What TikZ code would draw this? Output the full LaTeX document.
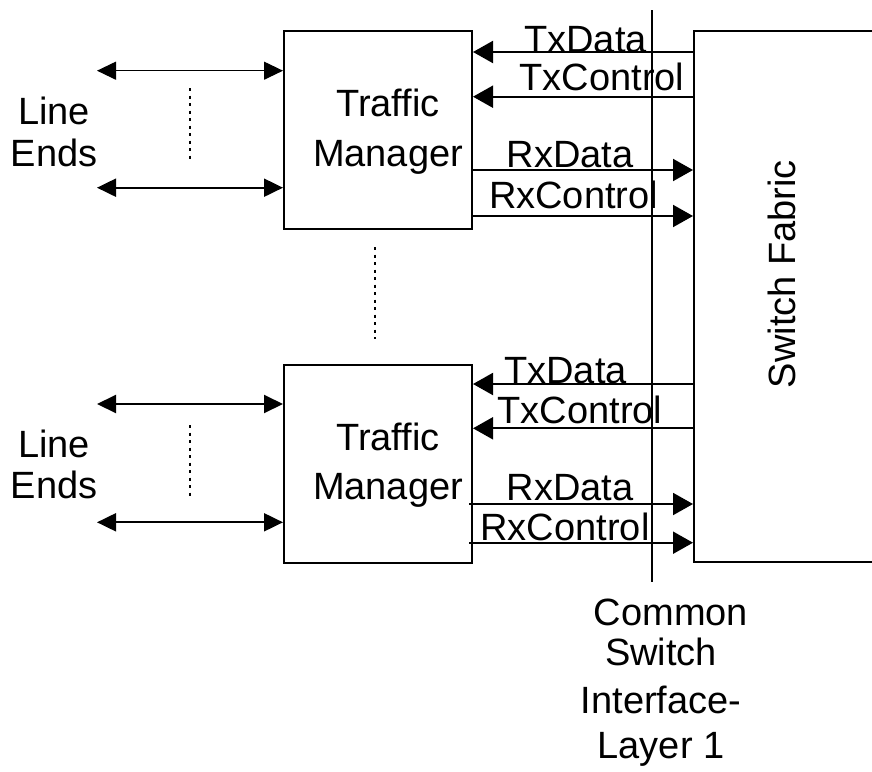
\documentclass[tikz,border=0pt]{standalone}
\usepackage{fontspec}
\setmainfont{Liberation Sans}
\usetikzlibrary{arrows.meta}
\begin{document}
\begin{tikzpicture}[x=1pt,y=-1pt,
  lbl/.style={font=\fontsize{38}{44}\selectfont, inner sep=0pt, anchor=base},
  tmbox/.style={draw, line width=2pt, minimum width=188pt, minimum height=198pt, inner sep=0pt},
  sig/.style={line width=2pt, -{Triangle[length=20pt,width=22pt]}},
  lineend/.style={line width=2pt, {Triangle[length=19pt,width=18pt]}-{Triangle[length=19pt,width=18pt]}},
  dotline/.style={line width=2pt, dash pattern=on 3pt off 4.5pt}]
\useasboundingbox (0,0) rectangle (872,771);

% blocks
\node[tmbox] (tm1) at (378,130) {};
\node[tmbox] (tm2) at (378,464) {};
\node[draw, line width=2pt, minimum width=186pt, minimum height=531pt, inner sep=0pt] (sf) at (787,296.5) {};

% block texts
\node[lbl] (tr1) at (388,116) {Traffic};
\node[lbl] (mg1) at (388,166) {Manager};
\node[lbl] (tr2) at (388,450) {Traffic};
\node[lbl] (mg2) at (388,499) {Manager};
\node[lbl, rotate=90] (sftext) at (795,274) {Switch Fabric};

% line end labels
\node[lbl] (li1) at (54,124) {Line};
\node[lbl] (en1) at (54,166) {Ends};
\node[lbl] (li2) at (54,457) {Line};
\node[lbl] (en2) at (54,498) {Ends};

% signal labels
\node[lbl] (txd1) at (585.5,52) {TxData};
\node[lbl] (txc1) at (602,90) {TxControl};
\node[lbl] (rxd1) at (570,167) {RxData};
\node[lbl] (rxc1) at (573.5,208) {RxControl};
\node[lbl] (txd2) at (565.5,383) {TxData};
\node[lbl] (txc2) at (580,423) {TxControl};
\node[lbl] (rxd2) at (570,500) {RxData};
\node[lbl] (rxc2) at (565,540) {RxControl};

% interface label
\node[lbl] (csi1) at (671,625) {Common};
\node[lbl] (csi2) at (661,665) {Switch};
\node[lbl] (csi3) at (661,713) {Interface-};
\node[lbl] (csi4) at (661,758) {Layer 1};

% common switch interface line
\coordinate (iftop) at (652,10);
\coordinate (ifbot) at (652,582);
\draw[line width=2pt] (iftop) -- (ifbot);

% signals between traffic managers and switch fabric
\draw[sig] (sf.west |- 0,52) -- (tm1.east |- 0,52);
\draw[sig] (sf.west |- 0,96.7) -- (tm1.east |- 0,96.7);
\draw[sig] (tm1.east |- 0,170) -- (sf.west |- 0,170);
\draw[sig] (tm1.east |- 0,216) -- (sf.west |- 0,216);
\draw[sig] (sf.west |- 0,384) -- (tm2.east |- 0,384);
\draw[sig] (sf.west |- 0,428.3) -- (tm2.east |- 0,428.3);
\draw[sig] ([xshift=-4pt]tm2.east |- 0,504) -- (sf.west |- 0,504);
\draw[sig] ([xshift=-4pt]tm2.east |- 0,542.7) -- (sf.west |- 0,542.7);

% line ends
\coordinate (le1) at (97,70.7);
\coordinate (le2) at (97,187.7);
\coordinate (le3) at (97,404);
\coordinate (le4) at (97,522.3);
\draw[lineend, line width=1.2pt] (le1) -- (tm1.west |- le1);
\draw[lineend] (le2) -- (tm1.west |- le2);
\draw[lineend] (le3) -- (tm2.west |- le3);
\draw[lineend] (le4) -- (tm2.west |- le4);

% continuation dots
\coordinate (d1a) at (190,88);
\coordinate (d1b) at (190,163);
\coordinate (d2a) at (375,247);
\coordinate (d2b) at (375,339);
\coordinate (d3a) at (190,425);
\coordinate (d3b) at (190,498);
\draw[dotline] (d1a) -- (d1b);
\draw[dotline] (d2a) -- (d2b);
\draw[dotline] (d3a) -- (d3b);
\end{tikzpicture}
\end{document}
